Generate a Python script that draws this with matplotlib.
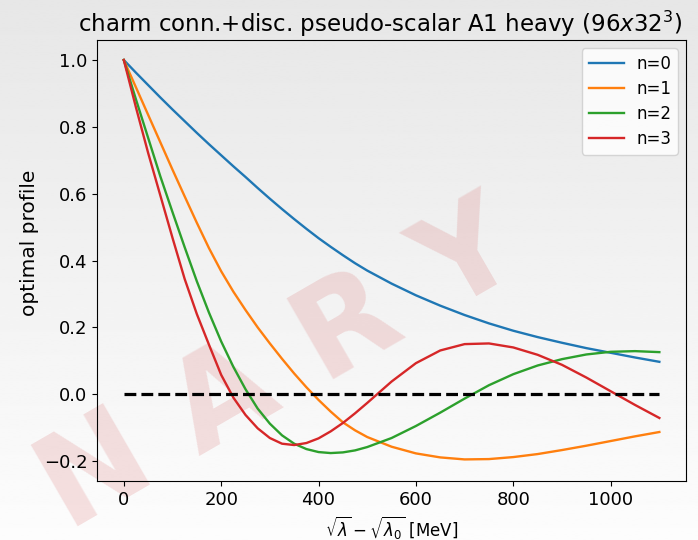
import numpy as np
import matplotlib
matplotlib.use("Agg")
import matplotlib.pyplot as plt


# sqrt(lambda) - sqrt(lambda_0) in MeV
x_mev = [0, 25, 50, 75, 100, 125, 150, 175, 200, 225, 250, 275, 300, 325, 350,
         375, 400, 425, 450, 475, 500, 550, 600, 650, 700, 750, 800, 850, 900,
         950, 1000, 1050, 1100]

profile_n0 = [1.000, 0.962, 0.925, 0.888, 0.852, 0.817, 0.782, 0.748, 0.715,
              0.682, 0.650, 0.617, 0.585, 0.554, 0.524, 0.495, 0.467, 0.441,
              0.416, 0.392, 0.370, 0.331, 0.296, 0.265, 0.237, 0.212, 0.190,
              0.171, 0.154, 0.138, 0.124, 0.110, 0.097]

profile_n1 = [1.000, 0.918, 0.836, 0.754, 0.672, 0.592, 0.513, 0.437, 0.368,
              0.307, 0.252, 0.200, 0.152, 0.106, 0.062, 0.021, -0.017, -0.052,
              -0.084, -0.108, -0.128, -0.157, -0.177, -0.189, -0.195, -0.194,
              -0.188, -0.179, -0.167, -0.154, -0.140, -0.126, -0.113]

profile_n2 = [1.000, 0.882, 0.767, 0.652, 0.545, 0.440, 0.338, 0.244, 0.158,
              0.082, 0.015, -0.043, -0.088, -0.123, -0.148, -0.164, -0.173,
              -0.176, -0.174, -0.168, -0.158, -0.131, -0.095, -0.055, -0.013,
              0.027, 0.060, 0.086, 0.105, 0.119, 0.127, 0.129, 0.126]

profile_n3 = [1.000, 0.858, 0.722, 0.595, 0.468, 0.345, 0.240, 0.148, 0.058,
              -0.010, -0.062, -0.102, -0.131, -0.148, -0.152, -0.146, -0.132,
              -0.111, -0.086, -0.057, -0.026, 0.038, 0.093, 0.131, 0.150,
              0.152, 0.140, 0.118, 0.088, 0.050, 0.009, -0.032, -0.071]

labels = ["n=0", "n=1", "n=2", "n=3"]
zero_line_x = [0, 1100]
zero_line_y = [0.0, 0.0]


fig = plt.figure(figsize=(6.98, 5.4), dpi=100)

# light grey page gradient behind the plot
bg = fig.add_axes([0, 0, 1, 1], zorder=-10)
grad = np.linspace(0.905, 0.99, 256).reshape(-1, 1)
bg.imshow(grad, aspect="auto", cmap="gray", vmin=0, vmax=1,
          extent=[0, 1, 0, 1], origin="upper")
bg.set_xlim(0, 1)
bg.set_ylim(0, 1)
bg.axis("off")

# watermark (only the visible part of it)
bg.text(0.400, 0.318, "N A R Y", fontsize=92, fontweight="bold",
        color="#d04848", alpha=0.16, rotation=30, rotation_mode="anchor",
        ha="center", va="center")

ax = fig.add_axes([0.139, 0.109, 0.844, 0.817])
ax.set_facecolor("none")

ax.plot(x_mev, profile_n0, linewidth=1.7, label=labels[0])
ax.plot(x_mev, profile_n1, linewidth=1.7, label=labels[1])
ax.plot(x_mev, profile_n2, linewidth=1.7, label=labels[2])
ax.plot(x_mev, profile_n3, linewidth=1.7, label=labels[3])
ax.plot(zero_line_x, zero_line_y, "k--", linewidth=2.3)

ax.set_xlim(-55, 1155)
ax.set_ylim(-0.26, 1.06)
ax.set_yticks([-0.2, 0.0, 0.2, 0.4, 0.6, 0.8, 1.0])
ax.tick_params(labelsize=13)

ax.set_title(r"charm conn.+disc. pseudo-scalar A1 heavy ($96x32^3$)",
             fontsize=16.5, x=0.48)
ax.set_xlabel(r"$\sqrt{\lambda} - \sqrt{\lambda_0}$ [MeV]", fontsize=12)
ax.set_ylabel("optimal profile", fontsize=14.5)
ax.yaxis.set_label_coords(-0.098, 0.54)
ax.legend(loc="upper right", fontsize=12, handlelength=2.15,
          labelspacing=0.42, handletextpad=0.7)

fig.savefig("out.png", dpi=100)
